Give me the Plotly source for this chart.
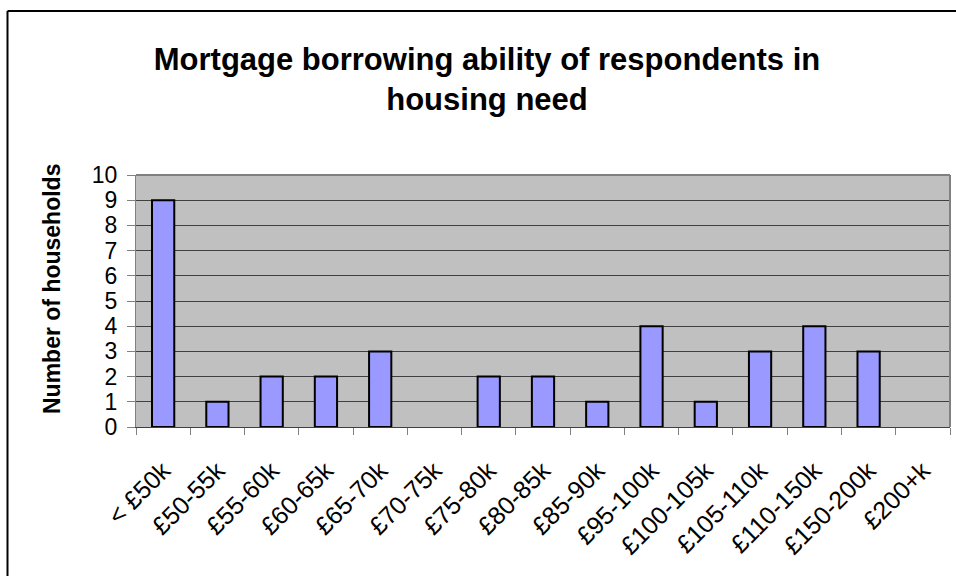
import plotly.graph_objects as go

# Borrowing bands and household counts
bands = ["< £50k", "£50-55k", "£55-60k", "£60-65k", "£65-70k", "£70-75k",
         "£75-80k", "£80-85k", "£85-90k", "£95-100k", "£100-105k",
         "£105-110k", "£110-150k", "£150-200k", "£200+k"]
households = [9, 1, 2, 2, 3, 0, 2, 2, 1, 4, 1, 3, 4, 3, 0]
y_ticks = list(range(0, 11))

W, H = 956, 576
L, R, T, B = 136, 6, 175, 149
pw, ph = W - L - R, H - T - B

def px_x(x):
    return (x - L) / pw

def px_y(y):
    return (H - B - y) / ph

FONT = "Liberation Sans, Arial, sans-serif"

# no outline on empty bands, so nothing is drawn there
outline_widths = [2 if v > 0 else 0 for v in households]

fig = go.Figure(
    go.Bar(
        x=bands,
        y=households,
        marker=dict(color="#9999FF", line=dict(color="black", width=outline_widths)),
        hoverinfo="x+y",
    )
)

fig.update_layout(
    width=W,
    height=H,
    margin=dict(l=L, r=R, t=T, b=B),
    paper_bgcolor="white",
    plot_bgcolor="#C0C0C0",
    bargap=0.59,
    showlegend=False,
    font=dict(family=FONT, color="black"),
    title=dict(
        text="<b>Mortgage borrowing ability of respondents in<br>housing need</b>",
        x=487 / W,
        xref="container",
        xanchor="center",
        y=1 - 70 / H,
        yref="container",
        yanchor="middle",
        font=dict(size=31, family=FONT),
    ),
    xaxis=dict(
        type="category",
        range=[-0.5, len(bands) - 0.5],
        tickangle=-45,
        tickfont=dict(size=25),
        ticklabelstandoff=18,
        ticks="outside",
        ticklen=7,
        tickcolor="#808080",
        tickson="boundaries",
        showline=True,
        linecolor="#404040",
        linewidth=1,
        showgrid=False,
        automargin=False,
    ),
    yaxis=dict(
        range=[0, 10],
        tickvals=y_ticks,
        tickfont=dict(size=23),
        ticklabelstandoff=5,
        ticks="outside",
        ticklen=8,
        tickcolor="#808080",
        showline=True,
        linecolor="#808080",
        linewidth=1,
        showgrid=True,
        gridcolor="#404040",
        gridwidth=1,
        zeroline=False,
        automargin=False,
    ),
    annotations=[
        dict(
            text="<b>Number of households</b>",
            textangle=-90,
            xref="paper", yref="paper",
            x=px_x(52), y=px_y(289),
            xanchor="center", yanchor="middle",
            showarrow=False,
            font=dict(size=23, family=FONT),
        )
    ],
    shapes=[
        # grey frame on the top and right of the plot area
        dict(type="line", xref="paper", yref="paper", x0=0, x1=1, y0=1, y1=1,
             line=dict(color="#808080", width=2)),
        dict(type="line", xref="paper", yref="paper", x0=1, x1=1, y0=0, y1=1,
             line=dict(color="#808080", width=2)),
        # chart border
        dict(type="line", xref="paper", yref="paper",
             x0=px_x(7.5), x1=px_x(7.5), y0=px_y(H + 5), y1=px_y(11),
             line=dict(color="black", width=2)),
        dict(type="line", xref="paper", yref="paper",
             x0=px_x(7.5), x1=px_x(W + 5), y0=px_y(11), y1=px_y(11),
             line=dict(color="black", width=2)),
    ],
)

fig.write_html("out.html")
